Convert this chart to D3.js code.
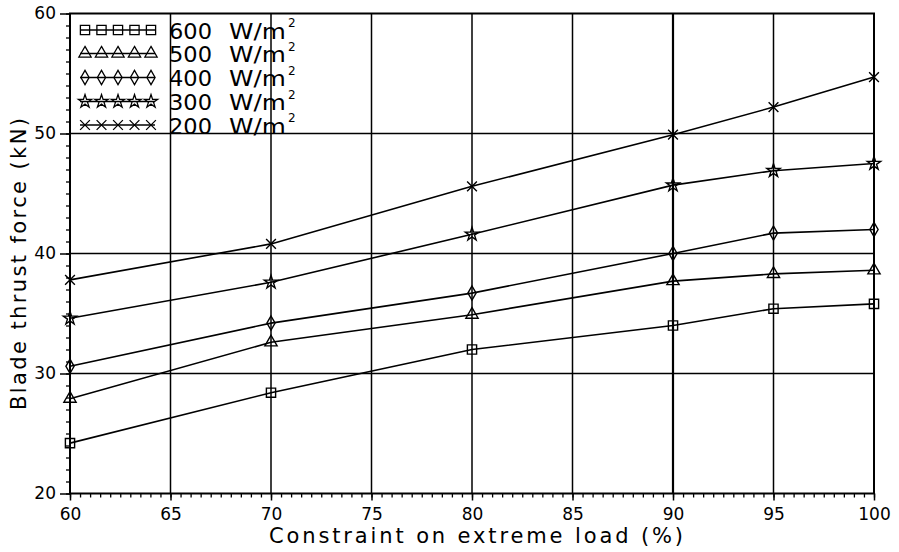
<!DOCTYPE html>
<html>
<head>
<meta charset="utf-8">
<script src="https://cdn.jsdelivr.net/npm/d3@7"></script>
<style>
  html, body { margin: 0; padding: 0; background: #fff; }
  svg text { font-family: "DejaVu Sans", sans-serif; fill: #000; }
</style>
</head>
<body>
<svg id="chart" width="899" height="552"></svg>
<script>
// ---- data ----
const loads = [60, 70, 80, 90, 95, 100];
const s600 = [24.2, 28.4, 32.0, 34.0, 35.4, 35.8];
const s500 = [27.9, 32.6, 34.9, 37.7, 38.3, 38.6];
const s400 = [30.6, 34.2, 36.7, 40.0, 41.7, 42.0];
const s300 = [34.6, 37.6, 41.6, 45.7, 46.9, 47.5];
const s200 = [37.8, 40.8, 45.6, 49.9, 52.2, 54.7];
const seriesNames = ["600", "500", "400", "300", "200"];
const xTicks = [60, 65, 70, 75, 80, 85, 90, 95, 100];
const yTicks = [20, 30, 40, 50, 60];

const seriesValues = [s600, s500, s400, s300, s200];
const symbolTypes = [d3.symbolSquare, d3.symbolTriangle, d3.symbolDiamond, d3.symbolStar, d3.symbolTimes];
const symbolSizes = [85, 65, 58, 55, 64];

const svg = d3.select("#chart");
const L = 70, R = 874, T = 13.5, B = 493.5;
const x = d3.scaleLinear().domain([60, 100]).range([L, R]);
const y = d3.scaleLinear().domain([20, 60]).range([B, T]);

// grid lines
const g = svg.append("g");
g.selectAll("line.vg").data(xTicks.slice(1, -1)).join("line")
  .attr("x1", d => x(d)).attr("x2", d => x(d)).attr("y1", T).attr("y2", B)
  .attr("stroke", "#000").attr("stroke-width", d => d === 90 ? 2.2 : 1.5);
g.selectAll("line.hg").data(yTicks.slice(1, -1)).join("line")
  .attr("x1", L).attr("x2", R).attr("y1", d => y(d)).attr("y2", d => y(d))
  .attr("stroke", "#000").attr("stroke-width", 1.6);

// minor ticks
const xMinor = d3.range(60, 100.001, 0.5);
const yMinor = d3.range(20, 60.001, 1);
svg.append("g").attr("transform", `translate(0,${B})`)
  .call(d3.axisBottom(x).tickValues(xMinor).tickSize(4).tickFormat(""))
  .call(a => a.select(".domain").remove())
  .selectAll("line").attr("stroke-width", 1.3);
svg.append("g").attr("transform", `translate(${L},0)`)
  .call(d3.axisLeft(y).tickValues(yMinor).tickSize(4).tickFormat(""))
  .call(a => a.select(".domain").remove())
  .selectAll("line").attr("stroke-width", 1.3);

// major axes
const xAxis = svg.append("g").attr("transform", `translate(0,${B})`)
  .call(d3.axisBottom(x).tickValues(xTicks).tickSize(7).tickFormat(d3.format("d")));
xAxis.select(".domain").remove();
xAxis.selectAll("line").attr("stroke-width", 1.5);
xAxis.selectAll("text").attr("font-size", 17).attr("y", 26).attr("dy", 0);

const yAxis = svg.append("g").attr("transform", `translate(${L},0)`)
  .call(d3.axisLeft(y).tickValues(yTicks).tickSize(10).tickPadding(4).tickFormat(d3.format("d")));
yAxis.select(".domain").remove();
yAxis.selectAll("line").attr("stroke-width", 1.5);
yAxis.selectAll("text").attr("font-size", 17);

// frame
svg.append("rect").attr("x", L).attr("y", T).attr("width", R - L).attr("height", B - T)
  .attr("fill", "none").attr("stroke", "#000").attr("stroke-width", 2);

// series lines and markers
const line = d3.line().x((d, i) => x(loads[i])).y(d => y(d));
seriesValues.forEach((vals, si) => {
  svg.append("path").datum(vals).attr("d", line)
    .attr("fill", "none").attr("stroke", "#000").attr("stroke-width", 1.6);
  svg.append("g").selectAll("path").data(vals).join("path")
    .attr("transform", (d, i) => `translate(${x(loads[i])},${y(d)})`)
    .attr("d", d3.symbol().type(symbolTypes[si]).size(symbolSizes[si]))
    .attr("fill", "none").attr("stroke", "#000").attr("stroke-width", 1.4);
});

// legend
const legRows = [30, 53.5, 77.5, 101.5, 125];
const legMarks = [85, 101.5, 118, 134.5, 151];
seriesNames.forEach((name, si) => {
  const ry = legRows[si];
  svg.append("line").attr("x1", 80).attr("x2", 155).attr("y1", ry).attr("y2", ry)
    .attr("stroke", "#000").attr("stroke-width", 1.5);
  svg.append("g").selectAll("path").data(legMarks).join("path")
    .attr("transform", d => `translate(${d},${ry})`)
    .attr("d", d3.symbol().type(symbolTypes[si]).size(symbolSizes[si]))
    .attr("fill", "none").attr("stroke", "#000").attr("stroke-width", 1.3);
  const t = svg.append("text").attr("y", ry + 8.5).attr("font-size", 22);
  t.append("tspan").attr("x", 169).attr("textLength", 43).attr("lengthAdjust", "spacingAndGlyphs").text(name);
  t.append("tspan").attr("x", 229).attr("textLength", 57).attr("lengthAdjust", "spacingAndGlyphs").text("W/m");
  svg.append("text").attr("x", 288).attr("y", ry - 3).attr("font-size", 12).text("2");
});

// axis titles
svg.append("text").attr("x", 476).attr("y", 543).attr("text-anchor", "middle")
  .attr("font-size", 21).attr("textLength", 414).attr("lengthAdjust", "spacing")
  .text("Constraint on extreme load (%)");
svg.append("text").attr("transform", "translate(26,264) rotate(-90)").attr("text-anchor", "middle")
  .attr("font-size", 21).attr("textLength", 292).attr("lengthAdjust", "spacing")
  .text("Blade thrust force (kN)");
</script>
</body>
</html>
